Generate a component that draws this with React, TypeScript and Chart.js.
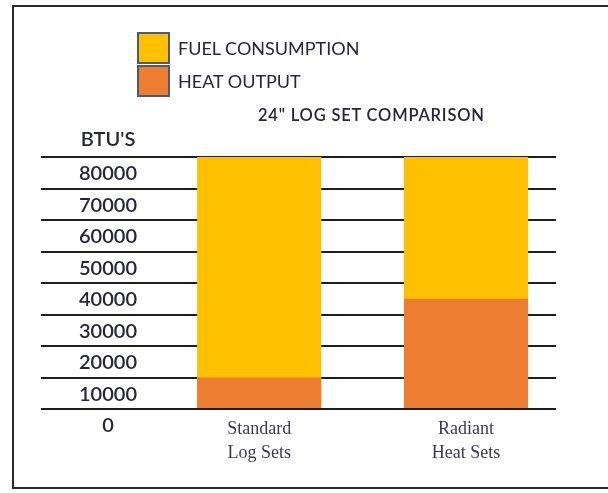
import React, { useEffect, useRef } from 'react';
import { Chart, registerables } from 'chart.js';

Chart.register(...registerables);

const categories: string[][] = [['Standard', 'Log Sets'], ['Radiant', 'Heat Sets']];
const categoryPositions = [1, 2];
const seriesNames = ['FUEL CONSUMPTION', 'HEAT OUTPUT'];
const seriesColors = ['#FFC000', '#ED7D31'];
const fuelConsumption = [80000, 80000];
const heatOutput = [10000, 35000];
const yTickStep = 10000;
const yMax = 80000;
const yAxisTitle = "BTU'S";
const chartTitle = '24" LOG SET COMPARISON';

const TEXT_COLOR = '#262638';
const LABEL_FONT = 'Lato, "Open Sans", sans-serif';
const LABEL_CENTER_X = 108;
const LABEL_OFFSET = 17;

const btuPlugin = {
  id: 'btuTitle',
  afterDraw(chart: any) {
    const y = chart.scales.y;
    const ctx = chart.ctx;
    ctx.save();
    ctx.font = `600 20px ${LABEL_FONT}`;
    ctx.fillStyle = TEXT_COLOR;
    ctx.textAlign = 'center';
    ctx.textBaseline = 'middle';
    ctx.fillText(yAxisTitle, LABEL_CENTER_X, y.getPixelForValue(yMax) - LABEL_OFFSET);
    ctx.restore();
  },
};

export default function App() {
  const ref = useRef<HTMLCanvasElement>(null);

  useEffect(() => {
    const chart = new Chart(ref.current as HTMLCanvasElement, {
      type: 'bar',
      data: {
        datasets: [
          {
            label: seriesNames[0],
            data: categoryPositions.map((x, i) => ({ x, y: fuelConsumption[i] })),
            backgroundColor: seriesColors[0],
            order: 2,
            grouped: false,
            categoryPercentage: 1,
            barPercentage: 0.6,
          } as any,
          {
            label: seriesNames[1],
            data: categoryPositions.map((x, i) => ({ x, y: heatOutput[i] })),
            backgroundColor: seriesColors[1],
            order: 1,
            grouped: false,
            categoryPercentage: 1,
            barPercentage: 0.6,
          } as any,
        ],
      },
      options: {
        animation: false,
        responsive: false,
        maintainAspectRatio: false,
        layout: { padding: { left: 41, right: 52, top: 157, bottom: 0 } },
        plugins: {
          legend: { display: false },
          tooltip: { enabled: false },
          title: { display: false },
        },
        scales: {
          x: {
            type: 'linear',
            min: -0.055,
            max: 2.435,
            offset: false,
            bounds: 'data',
            grace: 0,
            grid: { display: false },
            border: { display: false },
            afterBuildTicks: (s: any) => {
              s.ticks = categoryPositions.map((v) => ({ value: v }));
            },
            afterFit: (s: any) => {
              s.height = 84;
            },
            ticks: {
              autoSkip: false,
              maxRotation: 0,
              padding: 0,
              color: '#3a3a4c',
              font: { family: '"Liberation Serif", serif', size: 18, lineHeight: 1.33 },
              callback: (v: any) => {
                const i = categoryPositions.indexOf(Number(v));
                return i >= 0 ? categories[i] : '';
              },
            },
          },
          y: {
            min: 0,
            max: yMax,
            afterFit: (s: any) => {
              s.width = 0;
            },
            border: { display: false },
            grid: { color: '#1e1e1e', lineWidth: 2, drawTicks: false },
            ticks: {
              stepSize: yTickStep,
              mirror: true,
              crossAlign: 'center',
              padding: 38,
              labelOffset: LABEL_OFFSET,
              color: TEXT_COLOR,
              font: { family: LABEL_FONT, size: 20, weight: '600' },
              callback: (v: any) => String(v),
            },
          },
        },
      } as any,
      plugins: [btuPlugin],
    });
    return () => chart.destroy();
  }, []);

  return (
    <div style={{ position: 'fixed', left: 0, top: 0, width: 608, height: 493, background: '#fff', overflow: 'hidden' }}>
      <div
        style={{
          position: 'absolute',
          left: 12,
          top: 5,
          width: 640,
          height: 484,
          border: '2px solid #2a2a2a',
          boxSizing: 'border-box',
        }}
      />
      <canvas ref={ref} width={608} height={493} style={{ position: 'absolute', left: 0, top: 0, display: 'block' }} />
      <div style={{ position: 'absolute', left: 137, top: 31, fontFamily: LABEL_FONT, fontSize: 18, color: TEXT_COLOR }}>
        {seriesNames.map((name, i) => (
          <div key={name} style={{ display: 'flex', alignItems: 'center', height: 33 }}>
            <div
              style={{
                width: 33,
                height: 32,
                boxSizing: 'border-box',
                background: seriesColors[i],
                border: '2px solid #4a5a78',
              }}
            />
            <span style={{ marginLeft: 8 }}>{name}</span>
          </div>
        ))}
      </div>
      <div
        style={{
          position: 'absolute',
          left: 258,
          top: 105,
          fontFamily: LABEL_FONT,
          fontSize: 16.5,
          fontWeight: 600,
          letterSpacing: 0.8,
          color: TEXT_COLOR,
          whiteSpace: 'nowrap',
        }}
      >
        {chartTitle}
      </div>
    </div>
  );
}
